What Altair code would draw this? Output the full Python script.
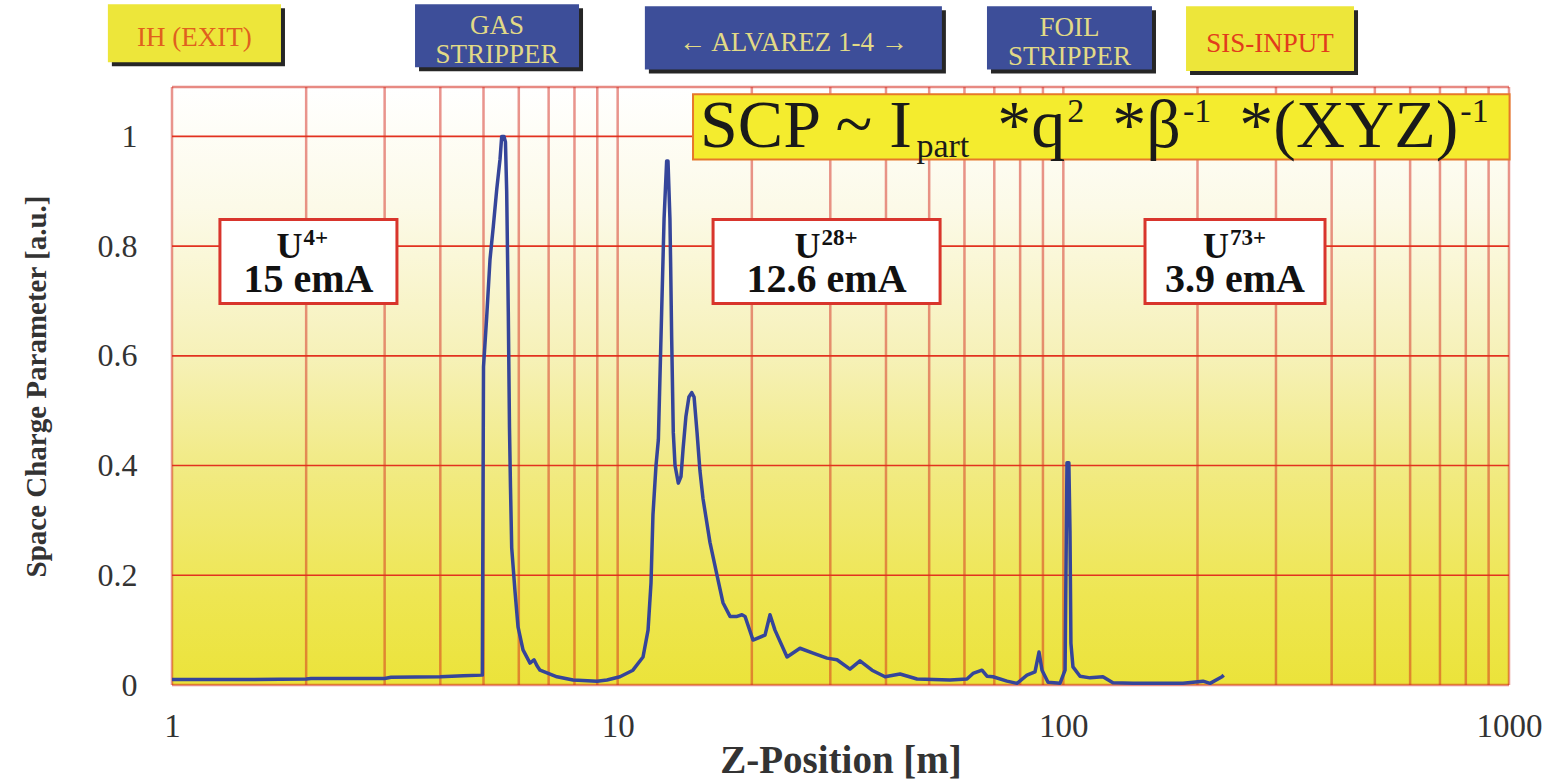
import altair as alt
import pandas as pd

SERIF = "Liberation Serif"

# ---------------- curve data ----------------
z_pos = [1.0, 1.5, 2.0, 2.05, 3.0, 3.1, 4.0, 4.5, 4.97, 5.0, 5.084, 5.171, 5.26, 5.353,
         5.445, 5.493, 5.558, 5.60, 5.636, 5.683, 5.718, 5.748, 5.784, 5.884, 5.976, 6.132,
         6.358, 6.491, 6.592, 6.695, 7.308, 7.94, 8.988, 9.464, 10.12, 10.82, 11.40, 11.70,
         11.88, 12.00, 12.19, 12.34, 12.56, 12.71, 12.88, 12.97, 13.10, 13.15, 13.22, 13.33,
         13.45, 13.68, 13.87, 14.02, 14.23, 14.45, 14.66, 14.84, 15.07, 15.30, 15.54, 16.11,
         16.71, 17.23, 17.87, 18.53, 19.01, 19.31, 20.12, 21.41, 21.97, 22.54, 23.99, 25.65,
         27.44, 29.49, 31.05, 33.21, 34.97, 37.22, 39.80, 43.01, 46.96, 55.68, 60.78, 62.70,
         65.68, 67.40, 69.53, 74.75, 78.71, 82.88, 86.38, 88.19, 89.57, 92.39, 98.29, 100.9,
         101.9, 102.9, 103.5, 104.0, 105.1, 109.0, 114.8, 122.7, 129.2, 143.3, 185.5, 205.8,
         213.4, 227.0, 229.0]
scp = [0.010, 0.010, 0.011, 0.012, 0.012, 0.014, 0.015, 0.017, 0.018, 0.58, 0.672, 0.776, 0.836, 0.903,
       0.958, 1.0, 1.0, 0.99, 0.90, 0.68, 0.47, 0.36, 0.25, 0.17, 0.106, 0.064,
       0.040, 0.046, 0.035, 0.027, 0.015, 0.009, 0.007, 0.009, 0.015, 0.027, 0.051, 0.10,
       0.186, 0.31, 0.40, 0.447, 0.69, 0.85, 0.955, 0.955, 0.85, 0.763, 0.63, 0.46,
       0.40, 0.368, 0.38, 0.43, 0.49, 0.525, 0.533, 0.525, 0.46, 0.39, 0.34, 0.26,
       0.20, 0.15, 0.125, 0.125, 0.128, 0.125, 0.082, 0.091, 0.128, 0.10, 0.051, 0.067,
       0.058, 0.049, 0.046, 0.029, 0.044, 0.027, 0.015, 0.020, 0.011, 0.009, 0.011, 0.021,
       0.027, 0.016, 0.015, 0.007, 0.003, 0.018, 0.024, 0.060, 0.027, 0.005, 0.003, 0.027,
       0.405, 0.405, 0.28, 0.076, 0.033, 0.016, 0.013, 0.015, 0.004, 0.003, 0.003, 0.007,
       0.003, 0.015, 0.018]

# axis ticks / grid
x_labels = [1, 10, 100, 1000]
y_labels = [0, 0.2, 0.4, 0.6, 0.8, 1.0]
x_grid = [1, 2, 3, 4, 5, 6, 7, 8, 9,
          10, 20, 30, 40, 50, 60, 70, 80, 90,
          100, 200, 300, 400, 500, 600, 700, 800, 900, 1000]
y_grid = [0.2, 0.4, 0.6, 0.8, 1.0]
y_top = 1.09
y_border = [0, y_top]

# section boxes above the plot (data coordinates: z range, value range)
sec_lines = [["IH (EXIT)"], ["GAS", "STRIPPER"], ["\u2190 ALVAREZ 1-4 \u2192"],
             ["FOIL", "STRIPPER"], ["SIS-INPUT"]]
sec_z1 = [0.718, 3.51, 11.51, 67.4, 188.5]
sec_z2 = [1.756, 8.19, 53.4, 158.1, 449.0]
sec_v1 = [1.135, 1.126, 1.122, 1.122, 1.119]
sec_v2 = [1.241, 1.241, 1.237, 1.237, 1.237]
sec_fill = ["#ede63a", "#3d4e99", "#3d4e99", "#3d4e99", "#ede63a"]
sec_textcol = ["#e0601e", "#e2da86", "#e2da86", "#e2da86", "#e23c1c"]
sec_line_step = 0.053   # line spacing of the two-line labels, in value units

# ion / current boxes
ion_sup = ["4+", "28+", "73+"]
ion_cur = ["15 emA", "12.6 emA", "3.9 emA"]
ion_z1 = [1.281, 16.37, 152.5]
ion_z2 = [3.197, 52.9, 386.5]
ion_v1 = [0.6953, 0.6953, 0.6953]
ion_v2 = [0.8485, 0.8485, 0.8485]
ion_v_u = 0.7774
ion_v_sup = 0.802
ion_v_cur = 0.7172

# formula box and its pieces
formula_box = {"z": [14.76], "z2": [1003.0], "v": [0.958], "v2": [1.0766]}
f_main_text = ["SCP ~ I", "*q", "*\u03b2", "*(XYZ)"]
f_main_z = [15.30, 71.10, 128.8, 248.2]
f_sub_text = ["part"]
f_sub_z = [46.81]
f_sup_text = ["2", "-1", "-1"]
f_sup_z = [102.07, 185.5, 777.6]
f_v_main = 0.980
f_v_sub = 0.9617
f_v_sup = 1.027

# ---------------- chart ----------------
W, H = 1337, 598

xs = alt.Scale(type="log", domain=[1, 1000], nice=False)
ys = alt.Scale(domain=[0, y_top], nice=False, zero=False)

x_axis = alt.Axis(values=x_labels, format="~g", title="Z-Position [m]", grid=False, ticks=False,
                  domain=False, labelFont=SERIF, labelFontSize=33, labelColor="#333333",
                  labelPadding=51, labelBaseline="alphabetic", labelAlign="center",
                  labelFlush=False, labelOverlap=False,
                  titleFont=SERIF, titleFontSize=39, titleFontWeight="bold", titleColor="#333333",
                  titleY=87, titleBaseline="alphabetic")
y_axis = alt.Axis(values=y_labels, format="~g", title="Space Charge Parameter [a.u.]", grid=False,
                  ticks=False, domain=False, labelFont=SERIF, labelFontSize=32, labelColor="#333333",
                  labelPadding=35, labelBaseline="middle", labelFlush=False,
                  titleFont=SERIF, titleFontSize=29, titleFontWeight="bold", titleColor="#333333",
                  titleX=-136, titleY=299, titleAngle=270, titleAlign="center", titleBaseline="middle")

X = alt.X("z:Q", scale=xs, axis=x_axis)
Y = alt.Y("v:Q", scale=ys, axis=y_axis)

gradient = alt.LinearGradient(
    gradient="linear", x1=0, y1=0, x2=0, y2=1,
    stops=[alt.GradientStop(offset=0, color="#ffffff"),
           alt.GradientStop(offset=0.2, color="#fcfae8"),
           alt.GradientStop(offset=0.45, color="#f6f1b8"),
           alt.GradientStop(offset=0.65, color="#f1ea80"),
           alt.GradientStop(offset=0.85, color="#eee652"),
           alt.GradientStop(offset=1, color="#ebe33a")])

bg = alt.Chart(pd.DataFrame({"z": [1], "z2": [1000], "v": [0], "v2": [y_top]})).mark_rect(
    fill=gradient).encode(x=X, x2="z2:Q", y=Y, y2="v2:Q")

vgrid = alt.Chart(pd.DataFrame({"z": x_grid})).mark_rule(
    color="#d42a1e", opacity=0.5, strokeWidth=2.5).encode(x=X)
hborder = alt.Chart(pd.DataFrame({"v": y_border})).mark_rule(
    color="#d42a1e", opacity=0.55, strokeWidth=2.5).encode(y=Y)
hgrid = alt.Chart(pd.DataFrame({"v": y_grid})).mark_rule(
    color="#e2321f", strokeWidth=1.6).encode(y=Y)

curve = alt.Chart(pd.DataFrame({"z": z_pos, "v": scp})).mark_line(
    color="#35459a", strokeWidth=3.5, strokeJoin="round").encode(x=X, y=Y)

# formula
fbox = alt.Chart(pd.DataFrame(formula_box)).mark_rect(
    fill="#f4ec2e", stroke="#e6782a", strokeWidth=2).encode(x=X, x2="z2:Q", y=Y, y2="v2:Q")
f_main = alt.Chart(pd.DataFrame({"z": f_main_z, "v": [f_v_main] * len(f_main_z), "t": f_main_text})).mark_text(
    font=SERIF, fontSize=68, align="left", baseline="alphabetic", color="#1a1a1a").encode(x=X, y=Y, text="t:N")
f_sub = alt.Chart(pd.DataFrame({"z": f_sub_z, "v": [f_v_sub] * len(f_sub_z), "t": f_sub_text})).mark_text(
    font=SERIF, fontSize=34, align="left", baseline="alphabetic", color="#1a1a1a").encode(x=X, y=Y, text="t:N")
f_sup = alt.Chart(pd.DataFrame({"z": f_sup_z, "v": [f_v_sup] * len(f_sup_z), "t": f_sup_text})).mark_text(
    font=SERIF, fontSize=34, align="left", baseline="alphabetic", color="#1a1a1a").encode(x=X, y=Y, text="t:N")

# ion boxes
ion_df = pd.DataFrame({"z": ion_z1, "z2": ion_z2, "v": ion_v1, "v2": ion_v2,
                       "sup": ion_sup, "cur": ion_cur})
ion_df["zc"] = (ion_df["z"] * ion_df["z2"]) ** 0.5
XC = alt.X("zc:Q", scale=xs, axis=x_axis)
ion_box = alt.Chart(ion_df).mark_rect(fill="white", stroke="#d8352c", strokeWidth=3).encode(
    x=X, x2="z2:Q", y=Y, y2="v2:Q")
ion_u = alt.Chart(ion_df.assign(vu=ion_v_u)).mark_text(
    font=SERIF, fontSize=36, fontWeight="bold", align="right", baseline="alphabetic", dx=-6,
    color="#111111", text="U").encode(x=XC, y=alt.Y("vu:Q", scale=ys, axis=y_axis))
ion_s = alt.Chart(ion_df.assign(vs=ion_v_sup)).mark_text(
    font=SERIF, fontSize=23, fontWeight="bold", align="left", baseline="alphabetic", dx=-5,
    color="#111111").encode(x=XC, y=alt.Y("vs:Q", scale=ys, axis=y_axis), text="sup:N")
ion_c = alt.Chart(ion_df.assign(vc=ion_v_cur)).mark_text(
    font=SERIF, fontSize=40, fontWeight="bold", align="center", baseline="alphabetic",
    color="#111111").encode(x=XC, y=alt.Y("vc:Q", scale=ys, axis=y_axis), text="cur:N")

# section boxes
sec_df = pd.DataFrame({"z": sec_z1, "z2": sec_z2, "v": sec_v1, "v2": sec_v2,
                       "fill": sec_fill, "tc": sec_textcol})
rows = []
for i, lines in enumerate(sec_lines):
    zc = (sec_z1[i] * sec_z2[i]) ** 0.5
    vc = (sec_v1[i] + sec_v2[i]) / 2
    n = len(lines)
    for k, line in enumerate(lines):
        rows.append({"zc": zc, "vc": vc + ((n - 1) / 2 - k) * sec_line_step,
                     "t": line, "tc": sec_textcol[i]})
sec_txt_df = pd.DataFrame(rows)

sec_shadow = alt.Chart(sec_df).mark_rect(color="#262626", xOffset=4, x2Offset=4, yOffset=4, y2Offset=4).encode(
    x=X, x2="z2:Q", y=Y, y2="v2:Q")
sec_box = alt.Chart(sec_df).mark_rect().encode(
    x=X, x2="z2:Q", y=Y, y2="v2:Q", color=alt.Color("fill:N", scale=None))
sec_txt = alt.Chart(sec_txt_df).mark_text(
    font=SERIF, fontSize=27, align="center", baseline="middle", dy=5).encode(
    x=XC, y=alt.Y("vc:Q", scale=ys, axis=y_axis),
    text="t:N", color=alt.Color("tc:N", scale=None))

chart = alt.layer(
    bg, vgrid, hborder, hgrid, curve,
    fbox, f_main, f_sub, f_sup,
    ion_box, ion_u, ion_s, ion_c,
    sec_shadow, sec_box, sec_txt
).properties(
    width=W, height=H,
    autosize=alt.AutoSizeParams(type="none"),
    padding={"left": 172, "top": 87, "right": 52, "bottom": 95},
    background="white"
).configure_view(stroke=None)

chart.save("out.html", embed_options={"renderer": "svg", "actions": False})
